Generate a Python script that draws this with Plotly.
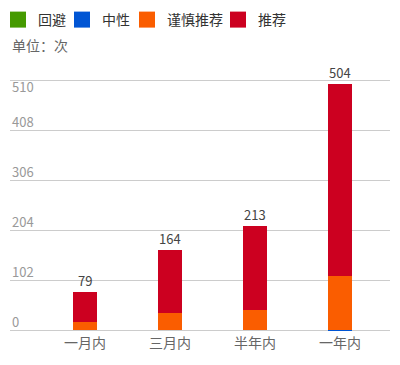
import plotly.graph_objects as go

categories = ["一月内", "三月内", "半年内", "一年内"]
series_names = ["回避", "中性", "谨慎推荐", "推荐"]
avoid = [0, 0, 0, 0]
neutral = [0, 0, 0, 1]
cautious = [17, 35, 41, 110]
recommend = [62, 129, 172, 393]
y_ticks = [0, 102, 204, 306, 408, 510]
colors = ["#459a00", "#0055d4", "#fa5d00", "#cc0020"]

series_values = [avoid, neutral, cautious, recommend]
totals = [sum(v) for v in zip(*series_values)]

FONT = "Noto Sans CJK SC, Microsoft YaHei, sans-serif"

# the page body has an 8px margin; figure coordinates are page - 8
W, H = 392, 357
L, R, T, B = 2, 10, 71, 33
plot_w = W - L - R
plot_h = H - T - B

legend_left_px = [-10, 54, 119, 210]  # figure px of each legend box's left edge
legend_names = ["legend", "legend2", "legend3", "legend4"]

fig = go.Figure()
for i, (name, vals, col) in enumerate(zip(series_names, series_values, colors)):
    fig.add_trace(go.Bar(
        x=categories, y=vals, name=name, marker_color=col,
        marker_line_width=0, width=0.282, showlegend=False,
        legendgroup=name, hoverinfo="x+y+name",
    ))
    fig.add_trace(go.Scatter(
        x=[None], y=[None], mode="markers", name=name, legendgroup=name,
        legend=legend_names[i],
        marker=dict(symbol="square", size=16, color=col), showlegend=True,
    ))

annotations = []
for c, t in zip(categories, totals):
    annotations.append(dict(
        x=c, y=t, xref="x", yref="y", text=str(t), showarrow=False,
        yanchor="bottom", font=dict(size=13, color="#444", family=FONT),
    ))
for v in y_ticks:
    top = v == max(y_ticks)
    annotations.append(dict(
        x=0, xref="paper", y=v, yref="y", text=str(v), showarrow=False,
        xanchor="left", yanchor="top" if top else "bottom",
        yshift=6 if top else -2.5,
        font=dict(size=13, color="#999", family=FONT),
    ))
annotations.append(dict(
    x=0, xref="paper", y=1, yref="paper", yshift=34, text="单位：次",
    showarrow=False, xanchor="left", yanchor="middle",
    font=dict(size=14, color="#666", family=FONT),
))

layout_legends = {}
for i, ln in enumerate(legend_names):
    layout_legends[ln] = dict(
        orientation="h", x=(legend_left_px[i] - L) / plot_w, xanchor="left",
        y=1 + (T + 4) / plot_h, yanchor="top",
        font=dict(size=14, color="#333", family=FONT),
        bgcolor="rgba(0,0,0,0)",
    )

fig.update_layout(
    width=W, height=H,
    margin=dict(l=L, r=R, t=T, b=B, autoexpand=False),
    barmode="stack",
    plot_bgcolor="white", paper_bgcolor="white",
    font=dict(family=FONT, size=14, color="#333"),
    showlegend=True,
    xaxis=dict(
        type="category", range=[-0.882, 3.588],
        showgrid=False, zeroline=False,
        showline=False, ticks="", automargin=False, ticklabelstandoff=1,
        tickfont=dict(size=14, color="#666", family=FONT),
    ),
    yaxis=dict(
        range=[-3.5, 513.5], tickvals=y_ticks, showticklabels=False, showgrid=True,
        gridcolor="#cccccc", gridwidth=1, zeroline=False, showline=False, ticks="",
        automargin=False,
    ),
    annotations=annotations,
    bargap=0,
    **layout_legends,
)

fig.write_html("out.html")
